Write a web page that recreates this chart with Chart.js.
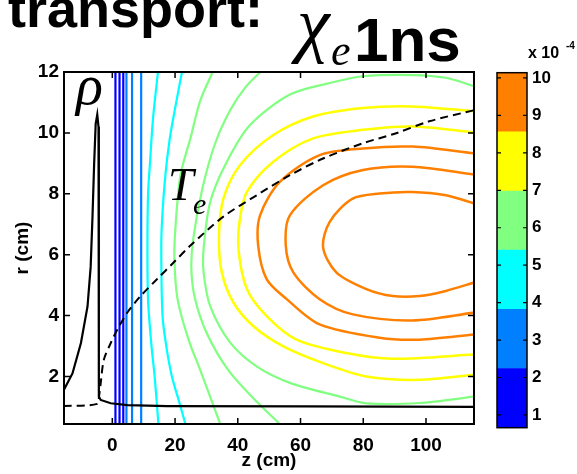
<!DOCTYPE html>
<html>
<head>
<meta charset="utf-8">
<script src="https://cdn.jsdelivr.net/npm/chart.js@4.4.1/dist/chart.umd.min.js"></script>
<style>
  body { margin: 0; background: #fff; }
  #wrap { position: relative; width: 577px; height: 474px; overflow: hidden; background: #fff; }
  canvas { position: absolute; top: 0; }
  #mainChart { left: 0; }
  #barChart { left: 490px; }
  svg { position: absolute; left: 0; top: 0; }
  .sans { font-family: 'Liberation Sans', Arial, sans-serif; font-weight: bold; }
  .serif { font-family: 'Liberation Serif', 'Times New Roman', serif; font-style: italic; }
</style>
</head>
<body>
<div id="wrap">
  <canvas id="mainChart" width="490" height="474"></canvas>
  <canvas id="barChart" width="87" height="474"></canvas>
  <svg width="577" height="474">
    <text class="sans" x="8" y="27" font-size="54">transport:</text>
    <text class="serif" x="297" y="48" font-size="74">χ</text>
    <text class="serif" x="331" y="65" font-size="44">e</text>
    <text class="sans" x="354" y="61" font-size="62">1ns</text>
    <text class="serif" x="76" y="104" font-size="56">ρ</text>
    <text class="serif" x="168" y="200" font-size="46">T</text>
    <text class="serif" x="193" y="214" font-size="30">e</text>
    <text class="sans" x="528" y="58" font-size="16">x 10</text>
    <text class="sans" x="566" y="49" font-size="10">-4</text>
  </svg>
</div>
<script>
// axis ranges and ticks
const zRange = [-15.4, 115.3];
const rRange = [0.44, 12];
const zTicks = [0, 20, 40, 60, 80, 100];
const rTicks = [2, 4, 6, 8, 10, 12];

// colour bar, units of 1e-4
const barEdges = [0.66, 2.24, 3.82, 5.40, 6.98, 8.56, 10.14];
const barColors = ['#0000ff', '#0080ff', '#00ffff', '#80ff80', '#ffff00', '#ff8000'];
const barTicks = [1, 2, 3, 4, 5, 6, 7, 8, 9, 10];

// contours that run straight across r near z = 0
const blueZ = [1.0, 2.3, 3.5];
const azureZ = [4.5, 6.3, 9.2];

// curved contours as [z, r]
const cyan1 = [[14.6, 12.05], [13.0, 10.5], [12.0, 9.0], [11.4, 8.0], [11.2, 6.2], [11.4, 4.5], [12.5, 3.0], [13.5, 2.0], [14.7, 0.44]];
const cyan2 = [[22.3, 12.05], [20.0, 10.8], [18.3, 9.8], [16.9, 8.6], [15.9, 7.2], [15.6, 6.2], [16.0, 4.0], [17.2, 3.0], [19.0, 2.0], [21.5, 1.1], [23.3, 0.44]];
const green1 = [[32.2, 12.05], [28.0, 11.05], [24.9, 9.82], [21.7, 8.6], [20.1, 6.85], [19.8, 5.86], [20.8, 4.54], [24.3, 3.21], [28.0, 2.22], [34.4, 0.44]];
const green2 = [[47.7, 12.05], [42.3, 11.48], [37.6, 10.75], [32.8, 9.66], [28.7, 8.17], [25.8, 6.52], [25.2, 5.53], [26.4, 4.54], [30.3, 3.38], [36.9, 2.22], [45.5, 1.23], [53.4, 0.44]];
const green3 = [[115.5, 11.53], [106.3, 11.81], [95.7, 11.9], [79.9, 11.86], [69.3, 11.64], [56.6, 11.26], [43.9, 10.26], [36.5, 9.05], [31.2, 7.73], [29.1, 6.19], [29.1, 5.43], [31.2, 4.31], [37.6, 3.11], [46.0, 2.33], [56.6, 1.79], [72.5, 1.34], [81.0, 1.12], [97.9, 1.13], [115.5, 1.34]];
const yellow1 = [[115.5, 10.71], [95.7, 10.87], [79.9, 10.82], [64.0, 10.54], [51.3, 9.93], [40.7, 8.94], [35.4, 7.84], [34.0, 6.6], [34.9, 5.42], [38.6, 4.43], [45.0, 3.65], [54.5, 2.99], [67.2, 2.44], [81.0, 2.0], [97.9, 1.89], [115.5, 2.06]];
const yellow2 = [[115.5, 10.02], [95.7, 10.21], [79.9, 10.10], [64.0, 9.82], [51.3, 9.05], [42.9, 8.06], [40.7, 7.18], [40.2, 6.19], [42.9, 4.87], [49.2, 3.98], [58.7, 3.21], [74.6, 2.77], [89.4, 2.58], [115.5, 2.72]];
const orange1 = [[115.5, 9.33], [95.7, 9.55], [79.9, 9.49], [66.1, 9.27], [53.4, 8.39], [47.1, 7.29], [46.5, 6.3], [49.2, 5.2], [55.6, 4.54], [66.1, 3.71], [85.2, 3.27], [97.9, 3.21], [115.5, 3.38]];
const orange2 = [[115.5, 8.63], [95.7, 8.89], [79.9, 8.78], [67.2, 8.28], [56.6, 7.29], [55.3, 6.3], [57.7, 5.42], [66.1, 4.54], [76.7, 4.04], [95.7, 3.84], [115.5, 4.10]];
const orange3 = [[115.5, 7.68], [106.3, 7.95], [95.7, 8.06], [85.2, 8.01], [76.6, 7.84], [69.3, 7.08], [67.2, 6.24], [71.4, 5.42], [81.0, 4.87], [89.4, 4.64], [97.9, 4.64], [106.3, 4.81], [115.5, 5.09]];

// density profile and Te profile
const rhoCurve = [[-15.5, 1.55], [-12.7, 2.1], [-10.0, 3.1], [-7.9, 4.3], [-6.9, 5.6], [-6.3, 7.3], [-5.8, 8.95], [-5.3, 10.3], [-4.8, 10.6], [-4.4, 10.2], [-4.3, 8.0], [-4.3, 5.0], [-4.3, 2.0], [-4.25, 1.34], [-3.7, 1.23], [-0.5, 1.12], [4.8, 1.06], [17.5, 1.03], [62, 1.02], [115.5, 1.0]];
const teCurve = [[-15.5, 1.03], [-4.8, 1.1], [-4.25, 1.34], [-3.7, 1.78], [-2.7, 2.55], [-0.5, 3.1], [1.6, 3.54], [4.8, 4.1], [9.0, 4.64], [14.3, 5.2], [19.6, 5.75], [24.9, 6.3], [35.4, 7.25], [46.0, 7.95], [56.6, 8.61], [67.2, 9.16], [79.9, 9.66], [90.5, 9.99], [101.0, 10.38], [115.5, 10.75]];

const tickFont = { family: "'Liberation Sans', Arial, sans-serif", size: 19, weight: 'bold' };

function line(points, color, width, extra) {
  return Object.assign({
    data: points.map(p => ({ x: p[0], y: p[1] })),
    borderColor: color,
    borderWidth: width,
    showLine: true,
    pointRadius: 0,
    fill: false,
    tension: 0.3
  }, extra || {});
}

function straight(z, color) {
  return line([[z, rRange[0]], [z, rRange[1]]], color, 2.2, { tension: 0 });
}

// first datasets are drawn on top
const datasets = [
  line(rhoCurve, '#000', 2.2, { tension: 0 }),
  line(teCurve, '#000', 2, { borderDash: [8, 5] }),
  line(orange3, barColors[5], 2.5),
  line(orange2, barColors[5], 2.5),
  line(orange1, barColors[5], 2.5),
  line(yellow2, barColors[4], 2.5),
  line(yellow1, barColors[4], 2.5),
  line(green3, barColors[3], 2.2),
  line(green2, barColors[3], 2.2),
  line(green1, barColors[3], 2.2),
  line(cyan2, barColors[2], 2.2),
  line(cyan1, barColors[2], 2.2)
];
azureZ.forEach(z => datasets.push(straight(z, barColors[1])));
blueZ.forEach(z => datasets.push(straight(z, barColors[0])));

// inward tick marks on every side plus the box
const boxTicks = {
  id: 'boxTicks',
  afterDatasetsDraw(chart, args, opts) {
    const { ctx, chartArea: a } = chart;
    const len = opts.len;
    ctx.save();
    ctx.strokeStyle = '#000';
    ctx.lineWidth = opts.tickWidth;
    Object.values(chart.scales).forEach(s => {
      if (!s.options.display) return;
      s.ticks.forEach(t => {
        const p = s.getPixelForValue(t.value);
        ctx.beginPath();
        if (s.isHorizontal()) {
          ctx.moveTo(p, a.bottom); ctx.lineTo(p, a.bottom - len);
          ctx.moveTo(p, a.top); ctx.lineTo(p, a.top + len);
        } else {
          ctx.moveTo(a.left, p); ctx.lineTo(a.left + len, p);
          ctx.moveTo(a.right, p); ctx.lineTo(a.right - len, p);
        }
        ctx.stroke();
      });
    });
    ctx.lineWidth = opts.boxWidth;
    ctx.strokeRect(a.left, a.top, a.right - a.left, a.bottom - a.top);
    ctx.restore();
  }
};

const mainChart = new Chart(document.getElementById('mainChart'), {
  type: 'scatter',
  data: { datasets: datasets },
  options: {
    responsive: false,
    animation: false,
    devicePixelRatio: 1,
    layout: { padding: { top: 72, right: 16, bottom: 0, left: 0 } },
    plugins: {
      legend: { display: false },
      tooltip: { enabled: false },
      boxTicks: { len: 6, tickWidth: 1.5, boxWidth: 2 }
    },
    scales: {
      x: {
        type: 'linear',
        min: zRange[0],
        max: zRange[1],
        afterBuildTicks: s => { s.ticks = zTicks.map(v => ({ value: v })); },
        afterFit: s => { s.height = 50; },
        grid: { display: false, drawTicks: false },
        border: { display: false },
        ticks: { color: '#000', font: tickFont, padding: 10, maxRotation: 0 },
        title: { display: true, text: 'z (cm)', color: '#000', font: tickFont, padding: { top: 0, bottom: 2 } }
      },
      y: {
        type: 'linear',
        min: rRange[0],
        max: rRange[1],
        afterBuildTicks: s => { s.ticks = rTicks.map(v => ({ value: v })); },
        afterFit: s => { s.width = 64; },
        grid: { display: false, drawTicks: false },
        border: { display: false },
        ticks: { color: '#000', font: tickFont, padding: 5 },
        title: { display: true, text: 'r (cm)', color: '#000', font: tickFont, padding: { top: 11, bottom: 0 } }
      }
    }
  },
  plugins: [boxTicks]
});

const barChart = new Chart(document.getElementById('barChart'), {
  type: 'bar',
  data: {
    labels: [''],
    datasets: barColors.map((c, i) => ({
      data: [[barEdges[i], barEdges[i + 1]]],
      backgroundColor: c,
      borderWidth: 0,
      barPercentage: 1,
      categoryPercentage: 1,
      grouped: false
    }))
  },
  options: {
    responsive: false,
    animation: false,
    devicePixelRatio: 1,
    layout: { padding: { top: 72.7, right: 0, bottom: 46.3, left: 7 } },
    plugins: {
      legend: { display: false },
      tooltip: { enabled: false },
      boxTicks: { len: 4, tickWidth: 1.2, boxWidth: 1.5 }
    },
    scales: {
      x: { display: false },
      y: {
        position: 'right',
        min: barEdges[0],
        max: barEdges[6],
        afterBuildTicks: s => { s.ticks = barTicks.map(v => ({ value: v })); },
        afterFit: s => { s.width = 50; },
        grid: { display: false, drawTicks: false },
        border: { display: false },
        ticks: { color: '#000', font: { family: tickFont.family, size: 17, weight: 'bold' }, padding: 5 }
      }
    }
  },
  plugins: [boxTicks]
});
</script>
</body>
</html>
